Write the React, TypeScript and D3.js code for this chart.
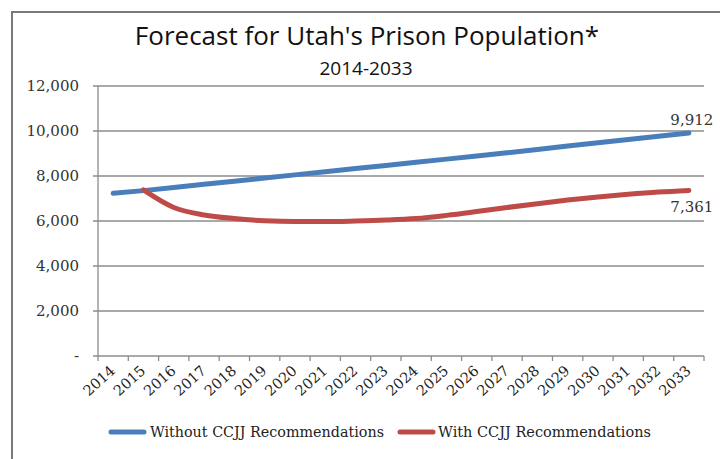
import React, { useEffect, useRef } from 'react';
import * as d3 from 'd3';

const years: string[] = ['2014', '2015', '2016', '2017', '2018', '2019', '2020', '2021', '2022', '2023',
    '2024', '2025', '2026', '2027', '2028', '2029', '2030', '2031', '2032', '2033'];

// Without CCJJ recommendations
const withoutValues: number[] = [7230, 7350, 7490, 7630, 7770, 7910, 8050, 8190, 8330, 8470,
    8610, 8750, 8890, 9030, 9180, 9330, 9480, 9620, 9770, 9912];

// With CCJJ recommendations (starts 2015)
const withValues: (number | null)[] = [null, 7380, 6600, 6270, 6110, 6010, 5975, 5975, 6000, 6040,
    6110, 6250, 6420, 6600, 6770, 6930, 7070, 7190, 7290, 7361];

const yTicks: number[] = [0, 2000, 4000, 6000, 8000, 10000, 12000];
const seriesNames: string[] = ['Without CCJJ Recommendations', 'With CCJJ Recommendations'];

const W = 720;
const H = 459;

export default function App() {
    const ref = useRef<SVGSVGElement>(null);

    useEffect(() => {
        const svg = d3.select(ref.current);
        svg.selectAll('*').remove();

        const left = 98, right = 704, top = 86, bottom = 356;
        const blue = '#4a7ebb';
        const red = '#be4b48';
        const serif = '"DejaVu Serif", serif';

        svg.append('rect').attr('width', W).attr('height', H).attr('fill', '#fff');

        // outer frame
        svg.append('path')
            .attr('d', `M12,${H} L12,12 L${W},12`)
            .attr('fill', 'none')
            .attr('stroke', '#7a7a7a')
            .attr('stroke-width', 2);

        const x = d3.scaleBand<string>().domain(years).range([left, right]);
        const y = d3.scaleLinear().domain([0, 12000]).range([bottom, top]);

        // titles
        svg.append('text')
            .attr('x', 367).attr('y', 45)
            .attr('text-anchor', 'middle')
            .attr('font-family', '"Open Sans", sans-serif')
            .attr('font-size', 26)
            .attr('fill', '#111')
            .text("Forecast for Utah's Prison Population*");
        svg.append('text')
            .attr('x', 366).attr('y', 75)
            .attr('text-anchor', 'middle')
            .attr('font-family', '"Open Sans", sans-serif')
            .attr('font-size', 19)
            .attr('fill', '#111')
            .text('2014-2033');

        // gridlines + y labels
        const g = svg.append('g');
        yTicks.forEach(t => {
            if (t > 0) {
                g.append('line')
                    .attr('x1', left - 5).attr('x2', right)
                    .attr('y1', y(t)).attr('y2', y(t))
                    .attr('stroke', '#8c8c8c').attr('stroke-width', 1.3);
            }
            g.append('text')
                .attr('x', 79).attr('y', y(t) + 5)
                .attr('text-anchor', 'end')
                .attr('font-family', serif)
                .attr('font-size', 15)
                .attr('fill', '#333')
                .text(t === 0 ? '-' : d3.format(',')(t));
        });

        // axes
        g.append('line')
            .attr('x1', left).attr('x2', left)
            .attr('y1', top).attr('y2', bottom)
            .attr('stroke', '#8c8c8c').attr('stroke-width', 1.3);
        g.append('line')
            .attr('x1', left - 5).attr('x2', right)
            .attr('y1', bottom).attr('y2', bottom)
            .attr('stroke', '#8c8c8c').attr('stroke-width', 1.3);
        const tickXs = years.map(yr => x(yr) as number).concat([right]);
        tickXs.forEach(tx => {
            g.append('line')
                .attr('x1', tx).attr('x2', tx)
                .attr('y1', bottom).attr('y2', bottom + 5)
                .attr('stroke', '#8c8c8c').attr('stroke-width', 1.3);
        });

        // x labels
        years.forEach(yr => {
            const cx = (x(yr) as number) + x.bandwidth() / 2 + 3;
            g.append('text')
                .attr('transform', `translate(${cx},${bottom + 16}) rotate(-42)`)
                .attr('text-anchor', 'end')
                .attr('font-family', serif)
                .attr('font-size', 14.5)
                .attr('fill', '#222')
                .text(yr);
        });

        const cx = (yr: string) => (x(yr) as number) + x.bandwidth() / 2;

        const lineWithout = d3.line<number>()
            .x((d, i) => cx(years[i]))
            .y(d => y(d));
        g.append('path')
            .datum(withoutValues)
            .attr('fill', 'none')
            .attr('stroke', blue)
            .attr('stroke-width', 5)
            .attr('stroke-linecap', 'round')
            .attr('d', lineWithout);

        const withPts = withValues
            .map((v, i) => ({ yr: years[i], v }))
            .filter(p => p.v !== null) as { yr: string; v: number }[];
        const lineWith = d3.line<{ yr: string; v: number }>()
            .x(d => cx(d.yr))
            .y(d => y(d.v))
            .curve(d3.curveMonotoneX);
        g.append('path')
            .datum(withPts)
            .attr('fill', 'none')
            .attr('stroke', red)
            .attr('stroke-width', 5)
            .attr('stroke-linecap', 'round')
            .attr('d', lineWith);

        // end labels
        const last = years[years.length - 1];
        g.append('text')
            .attr('x', cx(last) + 3).attr('y', y(withoutValues[withoutValues.length - 1]) - 8)
            .attr('text-anchor', 'middle')
            .attr('font-family', serif).attr('font-size', 15).attr('fill', '#333')
            .text(d3.format(',')(withoutValues[withoutValues.length - 1]));
        g.append('text')
            .attr('x', cx(last) + 3).attr('y', y(withValues[withValues.length - 1] as number) + 22)
            .attr('text-anchor', 'middle')
            .attr('font-family', serif).attr('font-size', 15).attr('fill', '#333')
            .text(d3.format(',')(withValues[withValues.length - 1] as number));

        // legend
        const legY = 432;
        const legItems = [
            { name: seriesNames[0], color: blue, x0: 111, tx: 150, w: 234 },
            { name: seriesNames[1], color: red, x0: 400, tx: 438, w: 213 },
        ];
        legItems.forEach(it => {
            g.append('line')
                .attr('x1', it.x0).attr('x2', it.x0 + 33)
                .attr('y1', legY).attr('y2', legY)
                .attr('stroke', it.color).attr('stroke-width', 5)
                .attr('stroke-linecap', 'round');
            g.append('text')
                .attr('x', it.tx).attr('y', legY + 5)
                .attr('font-family', serif).attr('font-size', 14.5).attr('fill', '#222')
                .attr('textLength', it.w).attr('lengthAdjust', 'spacingAndGlyphs')
                .text(it.name);
        });
    }, []);

    return <svg ref={ref} width={W} height={H} style={{ display: 'block', position: 'absolute', left: 0, top: 0 }}></svg>;
}
